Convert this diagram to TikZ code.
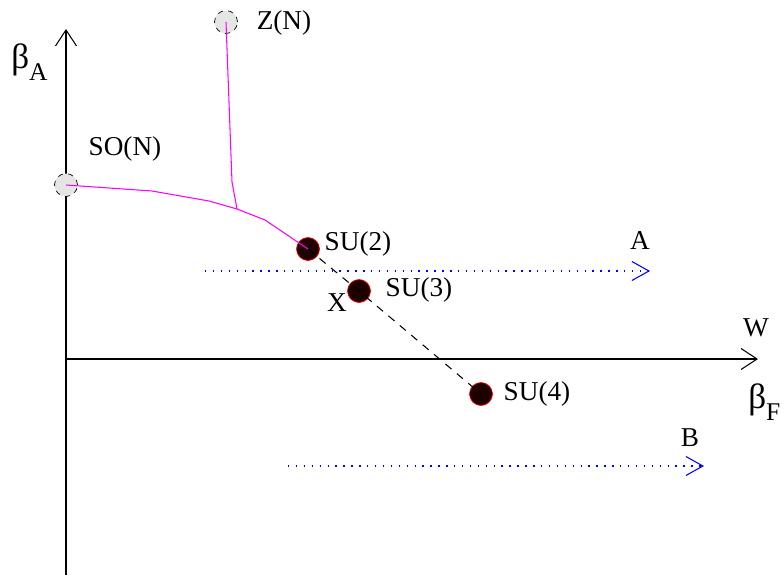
\documentclass[tikz,border=0pt]{standalone}
\usepackage{fontspec}
\setmainfont{Liberation Serif}
\usepackage{xcolor}
\usetikzlibrary{arrows.meta}
\definecolor{sufill}{RGB}{30,0,0}
\definecolor{linkpink}{RGB}{255,0,255}
\definecolor{flowblue}{RGB}{0,0,255}

\begin{document}
\begin{tikzpicture}[x=0.02cm, y=-0.02cm,
  lbl/.style={font=\fontsize{15.5}{17}\selectfont, inner sep=0pt},
  greek/.style={font=\fontsize{20}{22}\selectfont, inner sep=0pt, anchor=base west},
  ghost/.style={circle, draw, dashed, fill=gray!20, minimum size=0.46cm, inner sep=0pt},
  su/.style={circle, draw=red, fill=sufill, minimum size=0.46cm, inner sep=0pt},
  axis/.style={-{Straight Barb[length=0.32cm, width=0.42cm]}, line width=0.6pt},
  flow/.style={flowblue, dash pattern=on 0.8pt off 3.7pt, -{Straight Barb[length=0.34cm, width=0.38cm]}, line width=0.6pt},
  link/.style={linkpink, line width=0.6pt},
  chain/.style={dash pattern=on 4.5pt off 4pt, line width=0.6pt}
]
\useasboundingbox (0,0) rectangle (784,575);

% axes
\coordinate (origin) at (66,359);
\coordinate (ytop) at (66,29);
\coordinate (ybot) at (66,575);
\coordinate (xend) at (758,359);
\draw[axis] (ybot) -- (ytop);
\draw[axis] (origin) -- (xend);
\node[greek] (betaA) at (11,68) {β\raisebox{-7pt}{\fontsize{14.5}{16}\selectfont A}};
\node[greek] (betaF) at (748,408) {β\raisebox{-7pt}{\fontsize{14.5}{16}\selectfont F}};
\node[lbl] (w) at (756,328) {W};

% groups
\node[ghost] (z) at (226,22) {};
\node[ghost] (so) at (66,185) {};
\node[su] (su2) at (308,249) {};
\node[su] (su3) at (359,291) {};
\node[su] (su4) at (481,394) {};
\node[lbl] (zl) at (284,23) {Z(N)};
\node[lbl] (sol) at (125,149) {SO(N)};
\node[lbl] (su2l) at (358,244) {SU(2)};
\node[lbl] (su3l) at (419,290) {SU(3)};
\node[lbl] (su4l) at (537,394) {SU(4)};
\node[lbl] (x) at (337,303) {X};

% flow lines
\coordinate (j) at (237,209);
\draw[link] (so.center) -- (152,191) -- (209,201) -- (j) -- (265,220) -- (su2.center);
\draw[link] (z.center) -- (232,182) -- (j);
\draw[chain] (su2.center) -- (su3.center) -- (su4.center);

% trajectories
\coordinate (a0) at (205,271);
\coordinate (a1) at (650,271);
\coordinate (b0) at (288,466);
\coordinate (b1) at (704,466);
\draw[flow] (a0) -- (a1);
\draw[flow] (b0) -- (b1);
\node[lbl] (al) at (640,241) {A};
\node[lbl] (bl) at (690,438) {B};
\end{tikzpicture}
\end{document}
